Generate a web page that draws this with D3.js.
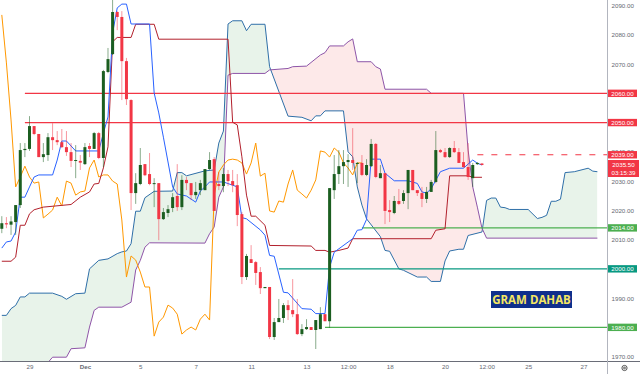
<!DOCTYPE html>
<html>
<head>
<meta charset="utf-8">
<script src="https://cdn.jsdelivr.net/npm/d3@7/dist/d3.min.js"></script>
<style>
    html, body { margin: 0; padding: 0; background: #fff; }
    svg { display: block; font-family: "Liberation Sans", Arial, sans-serif; }
    .tick text { fill: #666972; font-size: 6.2px; }
</style>
</head>
<body>
<div id="chart"></div>
<script>
// candles, one value per bar
const opens = [2013.7,2015.6,2015.1,2016,2021.8,2040.6,2041,2048.8,2046.1,2038.2,2038.9,2045,2044,2043.3,2041.6,2039.9,2036.9,2036.9,2035.8,2042,2041,2046.4,2037.9,2067.3,2073.4,2087.8,2086.1,2071,2057.7,2025.9,2029,2035.8,2032.4,2029,2029.3,2017,2019.1,2020.8,2024.9,2021.1,2030.4,2029.3,2025.2,2026.9,2026.9,2034.1,2037.5,2029,2028.3,2032.4,2030,2028.6,2018.7,1997.2,2003.3,2002.3,1998.9,1993.4,1993.8,1976.7,1981.8,1983.2,1987.6,1985.9,1984.5,1977.7,1979.4,1980.1,1979.1,1979.4,1984.5,1982.1,2026.9,2032.4,2035.1,2036.5,2037.2,2035.9,2036.2,2032.1,2035.1,2042.7,2031,2032.7,2020.1,2019.1,2023.2,2023.2,2025.9,2033.8,2026.9,2025.9,2023.9,2026.3,2029.7,2040.6,2039.9,2038.2,2041.3,2039.9,2036.5,2034.8,2031,2035.8,2036];
const highs = [2018,2017.7,2018,2021.8,2043,2043,2052.2,2048.8,2046.1,2043,2046.4,2049.8,2047.1,2047.8,2047.1,2043,2042.3,2038.9,2043,2043,2046.8,2046.8,2068,2075.5,2092,2088.1,2088.1,2072.1,2058,2032.7,2041.3,2035.8,2039.6,2031,2029.3,2020.8,2021.8,2025.9,2035.8,2032,2031.4,2029.3,2029.7,2030.4,2034.1,2039.9,2038.2,2033.1,2034.5,2033.8,2033.8,2032.4,2019.4,2005.1,2008.1,2002.7,2000.6,1993.8,1993.8,1983.2,1989.7,1988.3,1989.3,1996.5,1989.7,1981.1,1982.8,1980.1,1982.5,1986.9,1984.5,2027.6,2038.9,2040.6,2040.6,2039.2,2048.1,2036.5,2038.9,2037.5,2044.4,2043,2035.5,2032.7,2023.5,2024.9,2027.3,2026.9,2033.8,2033.8,2026.9,2028,2028,2030.4,2047.1,2041,2041.3,2041.6,2043.7,2041.3,2039.9,2043,2036.2,2036.5,2036.2];
const lows = [2012.2,2013.9,2011.6,2011.6,2020.8,2038.2,2040.3,2045.7,2038.2,2036.5,2036.9,2040.6,2042.3,2041.3,2038.6,2034.8,2031,2033.8,2035.5,2038.2,2041,2037.5,2034.8,2066.9,2073.1,2081.6,2057.7,2056,2020.1,2022.2,2028.6,2031.7,2028.6,2021.1,2009.8,2016.7,2017.7,2019.4,2019.8,2020.1,2026.9,2023.5,2023.9,2025.2,2026.9,2033.8,2019.8,2026.9,2026.2,2028.3,2026.2,2014.6,1994.8,1996.2,2002,1994.5,1991.4,1993.4,1976,1975.7,1981.8,1981.5,1982.5,1983.5,1977.4,1977,1979.1,1979.1,1972.6,1979.4,1982.1,1979.8,2023.9,2029,2029,2028,2033.8,2029.3,2031.7,2031.7,2034.8,2031,2031,2015.3,2016,2018.7,2021.8,2022.2,2020.4,2026.9,2024.9,2021.1,2022.5,2026.3,2029.3,2039.6,2037.9,2037.9,2039.6,2036.2,2034.5,2030.4,2028,2035.5,2035.4];
const closes = [2015.6,2015.2,2016.2,2021.8,2040.6,2041,2048.8,2046.1,2038.2,2039.2,2045,2044,2043.3,2041.6,2039.9,2036.9,2037.2,2036.3,2041.6,2041,2046.4,2037.9,2067.6,2071.7,2087.8,2086.1,2071,2058,2025.9,2029.3,2035.5,2032,2029,2029.3,2017,2019.4,2020.4,2024.5,2021.1,2030.4,2029.3,2025.2,2026.3,2029.3,2034.1,2037.2,2019.8,2028.3,2032.4,2030,2028.6,2018.4,1997.2,2004.4,2002,1998.6,1993.4,1993.8,1976.7,1981.8,1983.2,1987.6,1985.9,1984.5,1977.7,1979.4,1980.1,1979.1,1982.5,1984.5,1982.1,2027.6,2032.4,2035.1,2036.5,2037.2,2036.2,2036.2,2032.1,2035.5,2042.7,2031.4,2032.7,2019.8,2019.4,2023.2,2022.2,2025.9,2033.8,2026.9,2025.9,2023.9,2026.3,2029.7,2040.6,2039.9,2038.2,2041.3,2039.9,2036.2,2034.8,2031.4,2035.5,2036.2,2035.5];

// ichimoku lines as [bar, price] at the bends
const tenkan = [[0,2007.1],[1,2009.2],[2,2009.5],[3,2012.6],[4,2024.5],[5,2024.5],[6,2028],[7,2031.4],[8,2032.1],[11,2032.1],[12,2037.2],[13,2043.7],[14,2043.7],[16,2040.3],[21,2040.3],[22,2046.4],[23,2051.9],[24,2080.6],[25,2089.2],[26,2090.5],[27,2090.5],[28,2083.7],[32,2083.7],[33,2060.1],[34,2053.3],[35,2045],[37,2028],[38,2025.6],[40,2024.9],[42,2022.8],[43,2026.6],[44,2028],[45,2029.7],[48,2029.7],[50,2028.6],[51,2028],[52,2017.5],[53,2017.1],[56,2013.3],[57,2011.5],[58,2004.6],[59,2004.3],[61,1992],[62,1991.8],[65,1986.4],[67,1986.2],[68,1984.7],[70,1984.7],[71,2000.6],[72,2005.7],[76,2010.3],[77,2013.2],[78,2013.4],[79,2016.9],[80,2037.5],[82,2037.5],[83,2032.7],[85,2030.1],[88,2030.1],[90,2029.2],[91,2026.3],[92,2025.9],[93,2027.4],[95,2033.2],[97,2034.4],[100,2034.4],[102,2037.2],[103,2036.1],[104,2035.5]];
const kijun = [[0,2002.6],[2,2002.6],[3,2004],[4,2014.9],[5,2014.9],[6,2018.8],[7,2020.2],[9,2021.1],[13,2021.7],[15,2022],[17,2024.5],[19,2026.3],[20,2029],[21,2029.2],[22,2034.5],[23,2041.7],[24,2077.6],[25,2079.1],[28,2079.1],[29,2083.6],[33,2083.6],[34,2078.5],[49,2078.5],[50,2050.1],[51,2049.2],[52,2038.3],[53,2025.2],[54,2018],[55,2018],[57,2014.9],[58,2008],[67,2007.8],[68,2006.3],[70,2006.3],[71,2005.7],[73,2006.3],[75,2007.1],[76,2010.3],[93,2010.3],[94,2013.2],[96,2013.7],[97,2031.8],[101,2031.8],[102,2031.3],[104,2031.3]];
const senkouA = [[0,1984.1],[1,1984.1],[2,1986.4],[3,1987.5],[4,1990.4],[5,1990.4],[6,1991.7],[11,1991.7],[13,1990.6],[14,1989.6],[16,1991.5],[18,1991.7],[19,2000],[21,2002.9],[23,2003.4],[25,2005.2],[26,2005.8],[27,2006.1],[28,2008.6],[29,2019.7],[30,2019.7],[31,2024.3],[33,2026.5],[37,2026.6],[38,2032.9],[39,2032.9],[40,2031.8],[44,2033.5],[46,2033.8],[47,2043],[48,2047.1],[49,2083.7],[50,2084.8],[52,2084.8],[53,2081.4],[54,2083.6],[57,2083.6],[58,2069.1],[62,2052.2],[65,2051.8],[67,2050.6],[68,2052.3],[69,2052.3],[70,2054],[74,2054],[75,2040],[76,2038.3],[77,2028],[78,2021.8],[79,2017.1],[82,2011],[83,2006.3],[84,2006],[86,2000],[87,1999.5],[90,1997.2],[92,1997.2],[93,1995.7],[95,1995.7],[96,2002.7],[97,2006.1],[99,2006.7],[100,2006.7],[101,2011.4],[104,2012.6],[105,2023.4],[106,2024.2],[107,2024.2],[108,2021.1],[109,2020.9],[110,2020.3],[114,2020.3],[116,2017.2],[117,2017.6],[118,2018.3],[119,2023.1],[120,2023.1],[121,2023.8],[122,2032.9],[124,2033.2],[127,2034.4],[128,2033.4],[129,2033.2]];
const senkouB = [[0,1960],[10,1968],[11,1969.8],[14,1969.8],[15,1972.7],[18,1973],[19,1980.1],[20,1985.8],[21,1986.9],[26,1986.9],[28,1988.6],[29,1999.6],[30,2002.9],[31,2007.4],[32,2008.9],[44,2008.8],[45,2012],[46,2014.3],[47,2024.5],[48,2028],[49,2066.2],[50,2066.8],[57,2066.8],[58,2068],[62,2068.5],[63,2069.1],[66,2069.3],[69,2073.1],[70,2073.9],[71,2076.2],[74,2076.2],[75,2077.6],[76,2078.6],[77,2070.8],[80,2070.8],[81,2069.1],[82,2068.3],[83,2061.4],[92,2061.4],[93,2060],[100,2060],[101,2040.6],[102,2028],[103,2021.1],[104,2013.9],[105,2010.5],[129,2010.5]];
// chikou, one value per bar from bar 0
const chikou = [2086.8,2070.4,2050.9,2028,2031.4,2035.1,2031.4,2029.3,2029.7,2017.4,2018.7,2020.1,2024.5,2021.5,2030,2029.3,2025.2,2026.3,2026.6,2034.5,2037.2,2031.4,2032.1,2032.1,2030,2029,2016.7,1997.2,2004.4,2003,1998.9,1993.8,1993.8,1977,1981.8,1983.5,1987.6,1986.6,1984.5,1977.7,1979.1,1980.1,1979.1,1982.8,1984.5,1982.5,2025.2,2033.1,2035.5,2037.2,2037.5,2037.2,2036.2,2032.4,2036.2,2043,2031.7,2032.7,2019.8,2019.4,2023.2,2022.8,2029,2033.8,2026.9,2025.6,2024.2,2026.9,2030.4,2040.3,2039.9,2038.2,2041.3,2039.9,2036.2,2034.5,2032.1,2036.2,2036.2];

// axes (the ticks hidden under a level tag are left out, 2040 still peeks out above 2039)
const priceTicks = [2090,2080,2070,2040,2030,2020,2010,1990,1970];
const timeBars = [6,18,30,42,54,66,75,84,96,105,114,126];
const timeLabels = ['29','Dec','5','7','11','13','12:00','18','20','12:00','25','27'];

// horizontal levels drawn on the chart, and where each one starts (bar)
const levelPrices = [2060,2050,2039,2014,2000,1980];
const levelStarts = [5,5,103,78,60,70];
const levelColors = ['#f23645','#f23645','#f23645','#4caf50','#089981','#4caf50'];

const lastPrice = '2035.50';
const countdown = '03:15:39';

const width = 640, height = 374;
const plotW = 607, plotH = 361;

const svg = d3.select('#chart').append('svg')
    .attr('width', width)
    .attr('height', height);

const x = d3.scaleLinear([-0.39, 131.08], [0, plotW]);
const y = d3.scaleLinear([1968.5, 2091.9], [plotH, 0]);

const defs = svg.append('defs');
defs.append('clipPath').attr('id', 'plot').append('rect')
    .attr('width', plotW).attr('height', plotH);

// cloud: one outline between both spans, clipped above/below span B for the colour
const lineGen = d3.line().x(d => x(d[0])).y(d => y(d[1]));
const cloudPath = lineGen(senkouA) + 'L' + lineGen(senkouB.slice().reverse()).slice(1) + 'Z';
const aboveB = d3.area().x(d => x(d[0])).y0(-50).y1(d => y(d[1]));
const belowB = d3.area().x(d => x(d[0])).y0(plotH + 50).y1(d => y(d[1]));
defs.append('clipPath').attr('id', 'above-b').append('path').attr('d', aboveB(senkouB));
defs.append('clipPath').attr('id', 'below-b').append('path').attr('d', belowB(senkouB));

const plot = svg.append('g').attr('clip-path', 'url(#plot)');

plot.append('path').attr('d', cloudPath)
    .attr('clip-path', 'url(#above-b)')
    .attr('fill-rule', 'evenodd')
    .attr('fill', '#e8f3ea');
plot.append('path').attr('d', cloudPath)
    .attr('clip-path', 'url(#below-b)')
    .attr('fill-rule', 'evenodd')
    .attr('fill', '#fde9e9');

function drawLine(data, color, w){
    plot.append('path')
        .attr('d', lineGen(data))
        .attr('fill', 'none')
        .attr('stroke', color)
        .attr('stroke-width', w)
        .attr('stroke-linejoin', 'round');
}

drawLine(senkouA, '#2f6fa8', 1);
drawLine(senkouB, '#8e55a8', 1);
drawLine(chikou.map((v, i) => [i, v]), '#ff9800', 1);

// price levels
levelPrices.forEach((p, i) => {
    plot.append('line')
        .attr('x1', x(levelStarts[i])).attr('x2', plotW)
        .attr('y1', y(p)).attr('y2', y(p))
        .attr('stroke', levelColors[i])
        .attr('stroke-width', 1.2)
        .attr('stroke-dasharray', p === 2039 ? '6 8' : null);
});

drawLine(kijun, '#b2202c', 1);
drawLine(tenkan, '#2962ff', 1);

// candles
const bars = d3.range(opens.length);
const barColor = i => closes[i] >= opens[i] ? '#1b5e20' : '#f23645';

plot.selectAll('line.wick')
    .data(bars)
    .join('line')
    .classed('wick', true)
    .attr('x1', i => x(i)).attr('x2', i => x(i))
    .attr('y1', i => y(highs[i])).attr('y2', i => y(lows[i]))
    .attr('stroke', barColor)
    .attr('stroke-width', 0.8)
    .attr('stroke-opacity', 0.65);

plot.selectAll('rect.body')
    .data(bars)
    .join('rect')
    .classed('body', true)
    .attr('x', i => x(i) - 1.5)
    .attr('width', 3)
    .attr('y', i => y(Math.max(opens[i], closes[i])))
    .attr('height', i => Math.max(1, Math.abs(y(opens[i]) - y(closes[i]))))
    .attr('fill', barColor);

// watermark box
svg.append('rect')
    .attr('x', 491).attr('y', 291)
    .attr('width', 81).attr('height', 17)
    .attr('fill', '#0f2f8c');
svg.append('text')
    .attr('x', 531.5).attr('y', 303.5)
    .attr('text-anchor', 'middle')
    .attr('font-family', '"Open Sans", sans-serif')
    .attr('font-weight', 700)
    .attr('font-size', 11.5)
    .attr('fill', '#f5e663')
    .text('GRAM DAHAB');

// axes
svg.append('g')
    .attr('transform', `translate(0,${plotH})`)
    .call(d3.axisBottom(x).tickValues(timeBars).tickSize(0).tickPadding(4)
        .tickFormat((d, i) => timeLabels[i]))
    .call(g => g.select('.domain').remove())
    .selectAll('text')
    .attr('font-weight', (d, i) => timeLabels[i] === 'Dec' ? 700 : 400);

svg.append('g')
    .attr('transform', `translate(${plotW},0)`)
    .call(d3.axisRight(y).tickValues(priceTicks).tickSize(0).tickPadding(4.5)
        .tickFormat(d3.format('.2f')))
    .call(g => g.select('.domain').remove());

svg.append('line')
    .attr('x1', 0).attr('x2', width)
    .attr('y1', plotH + 0.5).attr('y2', plotH + 0.5)
    .attr('stroke', '#6a6d78');
svg.append('line')
    .attr('x1', plotW + 0.5).attr('x2', plotW + 0.5)
    .attr('y1', 0).attr('y2', height)
    .attr('stroke', '#b2b5be');

// level tags on the price axis
levelPrices.forEach((p, i) => {
    svg.append('rect')
        .attr('x', plotW + 1).attr('y', y(p) - 3.7)
        .attr('width', 29).attr('height', 7.4)
        .attr('fill', levelColors[i]);
    svg.append('text')
        .attr('x', plotW + 15.5).attr('y', y(p) + 2.2)
        .attr('text-anchor', 'middle')
        .attr('font-size', 6.2)
        .attr('fill', '#fff')
        .text(d3.format('.2f')(p));
});

// last price tag
svg.append('rect')
    .attr('x', plotW + 1).attr('y', 160)
    .attr('width', 31).attr('height', 17)
    .attr('fill', '#f23645');
[lastPrice, countdown].forEach((s, i) => {
    svg.append('text')
        .attr('x', plotW + 16.5).attr('y', 167 + i * 8)
        .attr('text-anchor', 'middle')
        .attr('font-size', 6.2)
        .attr('fill', '#fff')
        .text(s);
});

// settings gear
const gear = svg.append('g').attr('transform', 'translate(624.5,368)')
    .attr('fill', 'none').attr('stroke', '#555');
gear.append('circle').attr('r', 2.6);
gear.append('circle').attr('r', 0.9);
</script>
</body>
</html>
